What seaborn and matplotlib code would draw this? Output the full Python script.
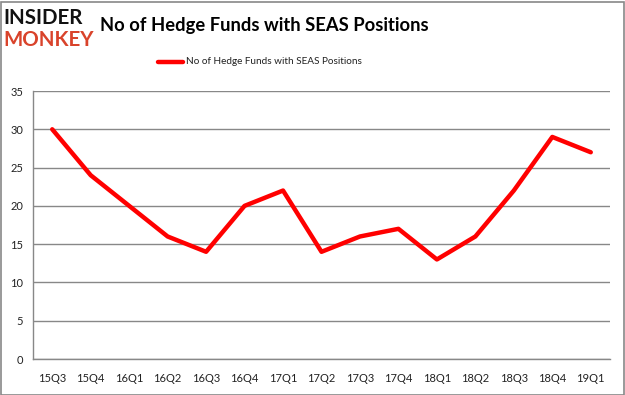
import matplotlib
matplotlib.use("Agg")
import matplotlib.pyplot as plt
import seaborn as sns
import pandas as pd
import numpy as np
from matplotlib.patches import Rectangle
from matplotlib.lines import Line2D

quarters = ["15Q3", "15Q4", "16Q1", "16Q2", "16Q3", "16Q4", "17Q1", "17Q2",
            "17Q3", "17Q4", "18Q1", "18Q2", "18Q3", "18Q4", "19Q1"]
funds = [30, 24, 20, 16, 14, 20, 22, 14, 16, 17, 13, 16, 22, 29, 27]
y_ticks = [0, 5, 10, 15, 20, 25, 30, 35]
series_name = "No of Hedge Funds with SEAS Positions"

sns.set_theme(style="white")
plt.rcParams['font.family'] = ['Lato', 'DejaVu Sans']

df = pd.DataFrame({"quarter": quarters, "funds": funds, "idx": np.arange(len(quarters))})

fig = plt.figure(figsize=(6.25, 3.95), dpi=100)
ax = fig.add_axes([33/625, 1-359/395, (610-33)/625, (359-91)/395])

sns.lineplot(data=df, x="idx", y="funds", ax=ax, color="#ff0000", linewidth=3.2,
             legend=False, sort=False)

ax.set_xlim(-0.5, len(quarters) - 0.5)
ax.set_ylim(0, 35)
ax.set_yticks(y_ticks)
ax.set_yticklabels([str(v) for v in y_ticks], fontsize=8, color="#222222")
ax.set_xticks(np.arange(len(quarters)))
ax.set_xticklabels(quarters, fontsize=8, color="#222222")
ax.set_xticks(np.arange(len(quarters) + 1) - 0.5, minor=True)
ax.tick_params(axis="x", which="major", length=0, pad=10)
ax.tick_params(axis="x", which="minor", length=5, width=1, color="#888888", direction="out")
ax.tick_params(axis="y", which="major", length=4, width=1, color="#888888", direction="out", pad=3)
ax.set_xlabel("")
ax.set_ylabel("")
ax.grid(axis="y", color="#888888", linewidth=1)
ax.set_axisbelow(True)
for s in ["top", "right"]:
    ax.spines[s].set_visible(False)
for s in ["left", "bottom"]:
    ax.spines[s].set_color("#888888")
    ax.spines[s].set_linewidth(1)

# Title
fig.text(100/625, 1-25/395, series_name, fontsize=13.2, fontweight="bold",
         color="black", ha="left", va="center", family=["Lato", "DejaVu Sans"])

# Logo
fig.text(3/625, 1-18/395, "INSIDER", fontsize=14.8, fontweight="bold", color="#111111",
         ha="left", va="center", family=["Lato", "DejaVu Sans"])
fig.text(3/625, 1-40/395, "MONKEY", fontsize=14.8, fontweight="bold", color="#d9432b",
         ha="left", va="center", family=["Lato", "DejaVu Sans"])

# Legend
fig.add_artist(Line2D([158/625, 183/625], [1-62/395, 1-62/395], color="#ff0000",
                      linewidth=3.2, transform=fig.transFigure))
fig.text(186/625, 1-62/395, series_name, fontsize=7.2, color="#222222",
         ha="left", va="center")

# Border
fig.add_artist(Rectangle((0.5/625, 0.5/395), 623/625, 393/395, transform=fig.transFigure,
                         fill=False, edgecolor="#888888", linewidth=1.2))

fig.savefig("out.png", dpi=100)
